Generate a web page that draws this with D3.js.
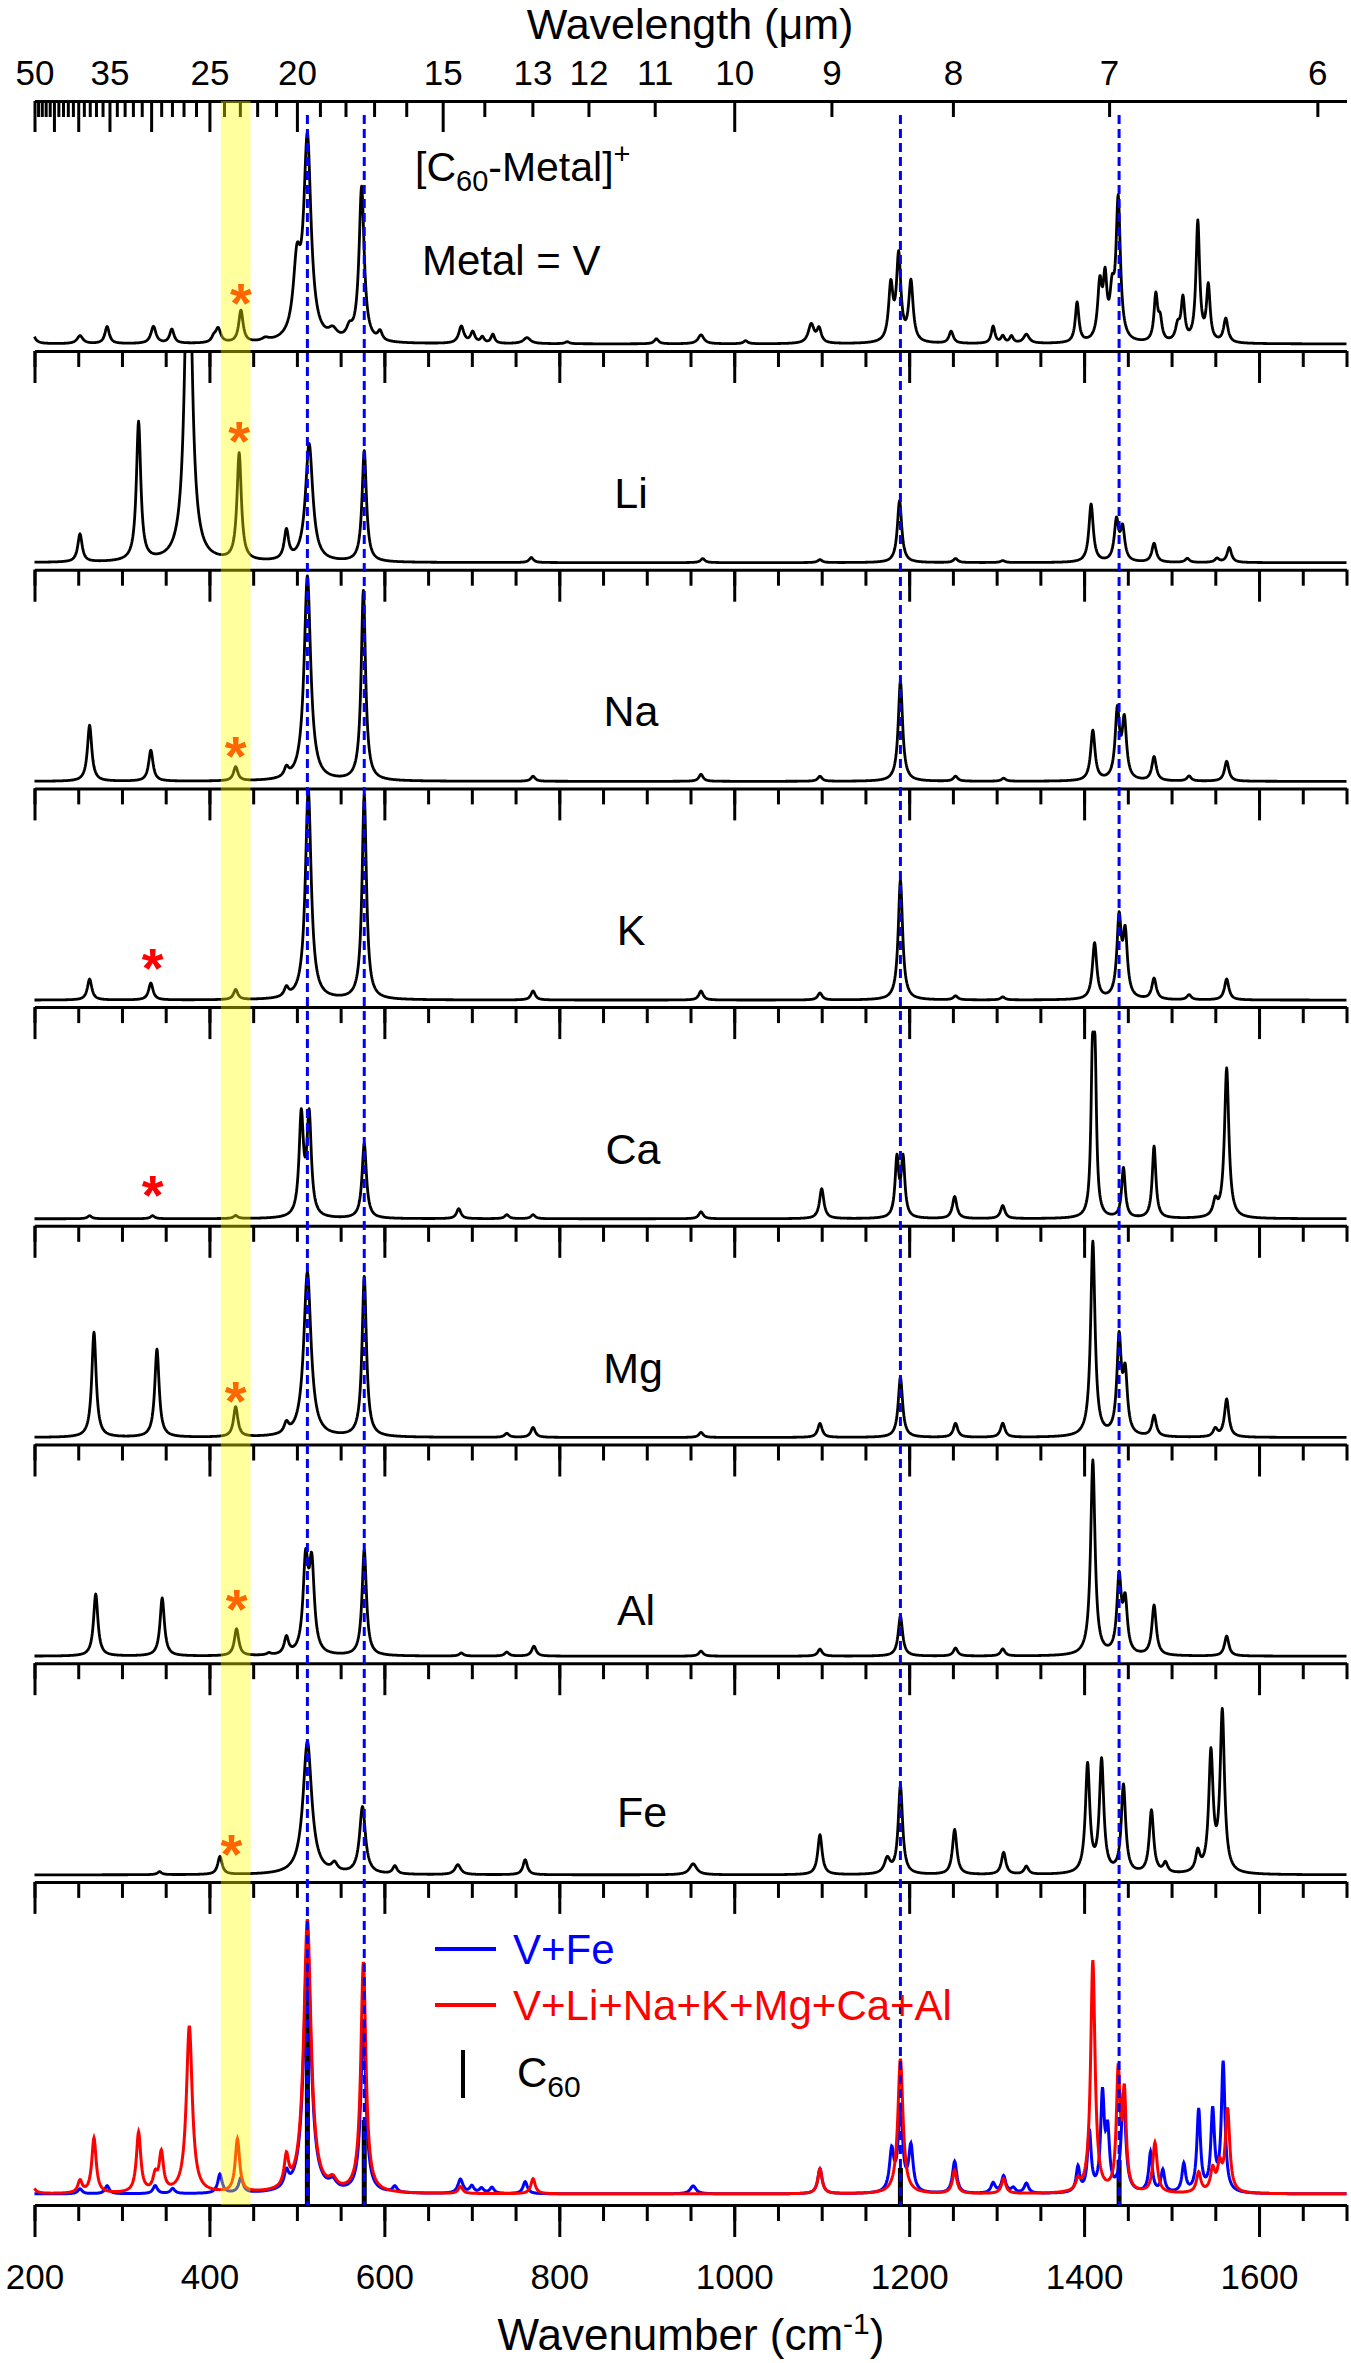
<!DOCTYPE html>
<html><head><meta charset="utf-8">
<script src="https://cdn.jsdelivr.net/npm/d3@7"></script>
<style>
body{margin:0;background:#fff}
svg text{font-family:"Liberation Sans",Arial,Helvetica,sans-serif}
</style>
</head><body>
<svg id="chart" width="1351" height="2363"></svg>
<script>
// ---------------- DATA ----------------
// Each spectrum is a list of bands: [wavenumber cm-1, relative intensity, band width cm-1]
const panelNames = ["V","Li","Na","K","Ca","Mg","Al","Fe"];

const peaksV = [[196,20,6],[252,8,8],[283,17,6],[336,17,7],[357,14,6],[405,5,6],[410,14,7],[436,32,6],[464,3,10],
 [500,70,10],[512,200,10],[541,9,12],[560,10,8],[574,155,7],[595,9,6],[688,17,7],[701,11,6],[712,6,5],[724,9,5],
 [763,6,10],[809,2,6],[911,5,6],[962,9,8],[1013,3,6],[1088,19,8],[1097,14,6],[1179,55,6],[1188,85,6],[1202,60,6],
 [1248,12,6],[1296,17,5],[1307,7,5],[1317,7,5],[1334,9,8],[1392,40,5],[1418,55,6],[1424,55,5],[1432,40,6],
 [1439,140,6],[1482,46,5],[1487,20,5],[1507,15,6],[1513,42,5],[1530,120,5],[1542,55,5],[1562,24,6]];
const peaksLi = [[252,28,6],[319,139,6],[376,380,9],[434,107,6],[488,29,6],[514,118,10],[577,111,6],[768,5,6],
 [964,4,6],[1098,3,6],[1189,62,6],[1253,4,6],[1307,2,6],[1408,58,6],[1437,40,6],[1444,32,6],[1480,19,6],
 [1518,4,6],[1552,4,6],[1566,15,6]];
const peaksNa = [[263,56,6],[333,31,6],[430,14,6],[488,9,6],[512,205,9],[576,190,6],[770,5,6],[962,7,6],[1098,5,6],
 [1190,100,6],[1253,5,6],[1308,3,6],[1410,50,6],[1438,68,6],[1446,58,6],[1480,24,6],[1520,5,6],[1563,20,6]];
const peaksK = [[263,21,6],[333,17,6],[430,10,6],[488,9,6],[513,210,8],[577,205,6],[770,9,6],[962,9,6],[1098,7,6],
 [1190,120,6],[1253,4,6],[1307,3,6],[1412,56,6],[1440,78,6],[1447,62,6],[1480,21,6],[1520,5,6],[1563,21,6]];
const peaksCa = [[263,3,6],[335,3,6],[430,3,6],[505,100,6],[514,100,6],[577,75,6],[685,10,6],[740,4,6],[770,4,6],
 [962,7,6],[1100,30,6],[1186,58,5],[1193,58,5],[1252,22,6],[1307,13,6],[1409.5,140,4],[1412.5,140,4],[1445,50,5],
 [1480,72,5],[1550,15,6],[1563,150,6]];
const peaksMg = [[268,105,6],[340,88,6],[430,30,6],[488,10,6],[512,165,10],[577,160,6],[740,4,6],[770,10,6],[962,5,6],
 [1098,14,6],[1190,60,6],[1253,14,6],[1307,14,6],[1410,195,6],[1440,95,6],[1447,58,6],[1480,21,6],[1550,8,6],[1563,38,6]];
const peaksAl = [[270,62,6],[346,58,6],[431,27,6],[468,2,6],[488,17,6],[510,90,7],[517,85,7],[577,106,6],[688,3,6],
 [740,4,6],[771,10,6],[962,5,6],[1098,7,6],[1190,40,6],[1253,8,6],[1307,7,6],[1410,195,6],[1440,75,6],[1447,50,6],
 [1480,50,6],[1563,20,6]];
const peaksFe = [[343,3,6],[412,18,6],[512,133,12],[543,8,8],[575,67,8],[612,8,6],[684,10,8],[761,15,6],[953,11,10],
 [1098,40,6],[1175,15,8],[1190,88,6],[1252,45,6],[1308,22,6],[1334,8,6],[1404,108,6],[1420,112,6],[1445,88,6],
 [1477,63,6],[1493,10,6],[1530,20,6],[1545,118,6],[1558,160,6]];
const peaksVFe = [[252,5,6],[283,8,6],[338,8,6],[358,5,6],[412,19,6],[436,15,6],[488,15,6],[512,250,10],[541,8,10],
 [576,170,7],[612,6,6],[687,14,7],[700,7,6],[711,5,6],[723,6,6],[761,12,6],[953,8,8],[1098,25,6],[1180,40,6],
 [1190,85,6],[1202,45,6],[1252,32,6],[1296,10,6],[1308,17,6],[1319,5,6],[1334,10,6],[1393,25,5],[1406,60,5],
 [1421,95,5],[1427,55,5],[1445,100,6],[1476,40,5],[1490,22,5],[1514,28,5],[1531,82,5],[1547,80,5],[1559,129,5]];
const peaksMix = [[196,15,6],[252,12,6],[268,55,6],[319,60,6],[338,15,6],[345,38,6],[377,167,8],[432,53,6],[488,30,6],
 [512,273,10],[541,9,10],[576,230,7],[687,7,6],[770,15,6],[1098,25,6],[1190,135,7],[1252,23,6],[1308,15,6],
 [1393,10,6],[1410,232,6],[1439,117,5],[1446,95,5],[1481,50,6],[1531,20,6],[1547,22,6],[1555,25,6],[1564,83,6]];
const c60Sticks = [[512,245],[577,85],[1190,37],[1440,45]];
const c60Lines = [512,577,1190,1440];
const highlightBand = [413,447];
const starsOrange = [["V",436],["Li",434],["Na",430],["Mg",430],["Al",431],["Fe",425]];
const starsRed = [["K",335],["Ca",335]];
const xTickValues = [200,400,600,800,1000,1200,1400,1600];
const wlMajor = [50,45,40,35,30,25,20,15,10];
const wlLabels = [50,35,25,20,15,13,12,11,10,9,8,7,6];
const legendLabels = ["V+Fe","V+Li+Na+K+Mg+Ca+Al"];

// ---------------- LAYOUT ----------------
const svg = d3.select("#chart");
const xL = 34.5, xR = 1346.5, topY = 101;
const axisY = [351,569.7,788.4,1007.1,1225.8,1444.5,1663.2,1881.9];
const bottomY = 2205;
const x = d3.scaleLinear().domain([200,1700]).range([xL,xR]);
const panelPeaks = [peaksV,peaksLi,peaksNa,peaksK,peaksCa,peaksMg,peaksAl,peaksFe];

function broaden(peaks){
  const grid = d3.range(200,1700.01,0.5);
  return grid.map(w=>{
    let s=0;
    for(const [c,h,f] of peaks){const g=f/2; s+=h*g*g/((w-c)*(w-c)+g*g);}
    return [w,s];
  });
}
const defs = svg.append("defs");
function clipFor(id,y0,y1){
  defs.append("clipPath").attr("id",id).append("rect")
    .attr("x",xL-2).attr("y",y0).attr("width",xR-xL+4).attr("height",y1-y0);
  return `url(#${id})`;
}
const gCurves = svg.append("g");
panelPeaks.forEach((pk,i)=>{
  const y0 = i===0?topY:axisY[i-1];
  const base = axisY[i]-7;
  const y = d3.scaleLinear().domain([0,100]).range([base,base-100]);
  const line = d3.line().x(d=>x(d[0])).y(d=>y(d[1]));
  gCurves.append("path").datum(broaden(pk))
    .attr("clip-path",clipFor("clip"+i,y0,axisY[i]))
    .attr("d",line).attr("fill","none").attr("stroke","#000")
    .attr("stroke-width",2.8).attr("stroke-linejoin","round");
});
// bottom panel
{
  const base = bottomY-11;
  const y = d3.scaleLinear().domain([0,100]).range([base,base-100]);
  const line = d3.line().x(d=>x(d[0])).y(d=>y(d[1]));
  const cp = clipFor("clipB",axisY[7],bottomY);
  const ys = d3.scaleLinear().domain([0,100]).range([bottomY,bottomY-100]);
  gCurves.selectAll(".stick").data(c60Sticks).join("line")
    .attr("x1",d=>x(d[0])).attr("x2",d=>x(d[0]))
    .attr("y1",ys(0)).attr("y2",d=>ys(d[1]))
    .attr("stroke","#000").attr("stroke-width",5);
  gCurves.append("path").datum(broaden(peaksVFe)).attr("clip-path",cp)
    .attr("d",line).attr("fill","none").attr("stroke","#0000ff").attr("stroke-width",3);
  gCurves.append("path").datum(broaden(peaksMix)).attr("clip-path",cp)
    .attr("d",line).attr("fill","none").attr("stroke","#ff0000").attr("stroke-width",3);
}

// ---------------- AXES ----------------
const minorVals = d3.range(200,1701,50);
function styleAxis(g){
  g.selectAll("path.domain").attr("stroke","#000").attr("stroke-width",3);
  g.selectAll(".tick line").attr("stroke","#000").attr("stroke-width",3);
  g.selectAll("text").attr("font-size",35).attr("fill","#000").attr("font-family","Liberation Sans, Arial, sans-serif");
}
[...axisY,bottomY].forEach((ay,i)=>{
  const g1 = svg.append("g").attr("transform",`translate(0,${ay})`)
    .call(d3.axisBottom(x).tickValues(minorVals).tickSize(16).tickSizeOuter(0).tickFormat(""));
  styleAxis(g1);
  const g2 = svg.append("g").attr("transform",`translate(0,${ay})`)
    .call(d3.axisBottom(x).tickValues(xTickValues).tickSize(32).tickSizeOuter(0)
      .tickPadding(27).tickFormat(i===axisY.length?d3.format("d"):""));
  styleAxis(g2);
  g2.select("path.domain").remove();
});
// top wavelength axis
const wlMinor = d3.range(6,50).filter(v=>!wlMajor.includes(v));
const gT1 = svg.append("g").attr("transform",`translate(0,${topY})`)
  .call(d3.axisTop(x).tickValues(wlMinor.map(v=>1e4/v)).tickSize(-16).tickSizeOuter(0).tickFormat(""));
styleAxis(gT1);
const gT2 = svg.append("g").attr("transform",`translate(0,${topY})`)
  .call(d3.axisTop(x).tickValues(wlMajor.map(v=>1e4/v)).tickSize(-31).tickSizeOuter(0).tickFormat(""));
styleAxis(gT2); gT2.select("path.domain").remove();
const gT3 = svg.append("g").attr("transform",`translate(0,${topY})`)
  .call(d3.axisTop(x).tickValues(wlLabels.map(v=>1e4/v)).tickSize(0).tickPadding(16)
    .tickFormat(v=>d3.format("d")(Math.round(1e4/v))));
styleAxis(gT3); gT3.select("path.domain").remove();

// ---------------- HIGHLIGHT BAND & REFERENCE LINES ----------------
svg.append("rect").attr("x",x(highlightBand[0])).attr("y",topY)
  .attr("width",x(highlightBand[1])-x(highlightBand[0])).attr("height",bottomY-topY)
  .attr("fill","#ffff00").attr("opacity",0.38);
svg.selectAll(".c60line").data(c60Lines).join("line")
  .attr("x1",d=>x(d)).attr("x2",d=>x(d)).attr("y1",115).attr("y2",bottomY)
  .attr("stroke","#0000ff").attr("stroke-width",3).attr("stroke-dasharray","9,5");

// ---------------- STARS ----------------
const starY = {V:292,Li:430,Na:745,K:957,Ca:1184,Mg:1390,Al:1598,Fe:1843};
function drawStars(list,color){
  svg.selectAll(null).data(list).join("text")
    .attr("x",d=>x(d[1])).attr("y",d=>starY[d[0]]+30)
    .attr("text-anchor","middle").attr("font-size",56).attr("font-weight","bold")
    .attr("fill",color).text("*");
}
drawStars(starsOrange,"#ff6600");
drawStars(starsRed,"#ff0000");

// ---------------- TEXT ----------------
const t1 = svg.append("text").attr("x",415).attr("y",181).attr("font-size",41);
t1.append("tspan").text("[C");
t1.append("tspan").attr("font-size",29).attr("dy",10).text("60");
t1.append("tspan").attr("dy",-10).text("-Metal]");
t1.append("tspan").attr("font-size",29).attr("dy",-17).text("+");
svg.append("text").attr("x",422).attr("y",275).attr("font-size",42).text("Metal = V");
const labelDrop = {Li:62,Na:62,K:62,Ca:62,Mg:62,Al:38,Fe:55};
const labelX = {Li:631,Na:631,K:631,Ca:633,Mg:633,Al:636,Fe:642};
panelNames.slice(1).forEach((n,k)=>{
  const i=k+1;
  svg.append("text").attr("x",labelX[n]).attr("y",axisY[i]-labelDrop[n])
    .attr("text-anchor","middle").attr("font-size",43).text(n);
});
svg.append("text").attr("x",690).attr("y",39).attr("text-anchor","middle").attr("font-size",43)
  .text("Wavelength (μm)");
const tb = svg.append("text").attr("x",691).attr("y",2350).attr("text-anchor","middle").attr("font-size",44);
tb.append("tspan").text("Wavenumber (cm");
tb.append("tspan").attr("font-size",30).attr("dy",-16).text("-1");
tb.append("tspan").attr("dy",16).text(")");

// ---------------- LEGEND ----------------
const legColors = ["#0000ff","#ff0000"];
const legY = [1949,2005];
legendLabels.forEach((lab,i)=>{
  svg.append("line").attr("x1",435).attr("x2",496).attr("y1",legY[i]).attr("y2",legY[i])
    .attr("stroke",legColors[i]).attr("stroke-width",4);
  svg.append("text").attr("x",513).attr("y",legY[i]+15).attr("font-size",42)
    .attr("fill",legColors[i]).text(lab);
});
svg.append("line").attr("x1",463).attr("x2",463).attr("y1",2050).attr("y2",2098)
  .attr("stroke","#000").attr("stroke-width",4);
const tc = svg.append("text").attr("x",517).attr("y",2087).attr("font-size",42);
tc.append("tspan").text("C");
tc.append("tspan").attr("font-size",30).attr("dy",10).text("60");
</script>
</body></html>
